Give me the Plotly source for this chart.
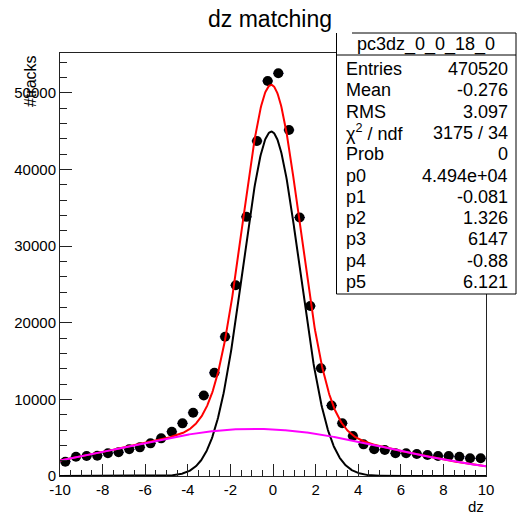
import numpy as np
import plotly.graph_objects as go

# ---- data ----
bin_centers = [-9.75 + 0.5 * i for i in range(40)]
counts = [1870, 2520, 2610, 2650, 2960, 3090, 3480, 3740, 4260, 4910,
          5780, 6870, 8250, 10500, 13470, 18170, 24900, 33820, 43720, 51550,
          52550, 45150, 33730, 22180, 14050, 9200, 6880, 5220, 4130, 3480,
          3390, 2960, 2960, 2870, 2740, 2610, 2610, 2520, 2310, 2310]
half_width = [0.25] * 40

# fit parameters shown in the stats box
p0, p1, p2 = 4.494e4, -0.081, 1.326
p3, p4, p5 = 6147, -0.88, 6.121

x_tickvals = [-10, -8, -6, -4, -2, 0, 2, 4, 6, 8, 10]
x_ticktext = ["-10", "-8", "-6", "-4", "-2", "0", "2", "4", "6", "8", "10"]
y_tickvals = [0, 10000, 20000, 30000, 40000, 50000]
y_ticktext = ["0", "10000", "20000", "30000", "40000", "50000"]

stats_labels = ["Entries", "Mean", "RMS", "χ<sup>2</sup> / ndf", "Prob",
                "p0", "p1", "p2", "p3", "p4", "p5"]
stats_values = ["470520", "-0.276", "3.097", "3175 / 34", "0",
                "4.494e+04", "-0.081", "1.326", "6147", "-0.88", "6.121"]
hist_name = "pc3dz_0_0_18_0"

# ---- layout geometry (pixels) ----
W, H = 531, 516
L, R, T, B = 60, 45, 53, 40
X0, X1 = L, W - R
Y0, Y1 = T, H - B


def px(x):
    return (x - X0) / (X1 - X0)


def py(y):
    return (Y1 - y) / (Y1 - Y0)


xf = np.linspace(-10, 10, 801)
g1 = p0 * np.exp(-0.5 * ((xf - p1) / p2) ** 2)
g2 = p3 * np.exp(-0.5 * ((xf - p4) / p5) ** 2)
tot = g1 + g2

FONT = "Liberation Sans, Arial, sans-serif"

fig = go.Figure()
fig.add_trace(go.Scatter(
    x=bin_centers, y=counts, mode="markers",
    marker=dict(symbol="circle", size=10, color="black"),
    error_x=dict(type="data", array=half_width, color="#000080",
                 thickness=1, width=0),
    showlegend=False, hoverinfo="skip"))
fig.add_trace(go.Scatter(x=xf, y=tot, mode="lines",
                         line=dict(color="#ff0000", width=2),
                         showlegend=False, hoverinfo="skip"))
fig.add_trace(go.Scatter(x=xf, y=g1, mode="lines",
                         line=dict(color="#000000", width=2),
                         showlegend=False, hoverinfo="skip"))
fig.add_trace(go.Scatter(x=xf, y=g2, mode="lines",
                         line=dict(color="#ff00ff", width=2),
                         showlegend=False, hoverinfo="skip"))

axis_common = dict(showgrid=False, zeroline=False, showline=True,
                   linecolor="#222222", linewidth=1, mirror=True,
                   ticks="inside", tickcolor="#222222",
                   tickfont=dict(family=FONT, size=15, color="black"))

fig.update_xaxes(range=[-10, 10], tickmode="array", tickvals=x_tickvals,
                 ticktext=x_ticktext, ticklen=12,
                 minor=dict(ticks="inside", dtick=0.5, tick0=-10, ticklen=6,
                            tickcolor="#222222"),
                 **axis_common)
fig.update_yaxes(range=[0, 55200], tickmode="array", tickvals=y_tickvals,
                 ticktext=y_ticktext, ticklen=12,
                 minor=dict(ticks="inside", dtick=2000, tick0=0, ticklen=7,
                            tickcolor="#222222"),
                 **axis_common)

ann = []
ann.append(dict(text="dz matching", x=px(270), y=py(19), xref="paper",
                yref="paper", showarrow=False, xanchor="center",
                yanchor="middle",
                font=dict(family=FONT, size=23, color="black")))
ann.append(dict(text="dz", x=1, y=py(506), xref="paper", yref="paper",
                showarrow=False, xanchor="right", yanchor="middle",
                font=dict(family=FONT, size=15, color="black")))
ann.append(dict(text="#tracks", x=px(30), y=1, xref="paper", yref="paper",
                showarrow=False, textangle=-90, xanchor="center",
                yanchor="top",
                font=dict(family=FONT, size=16, color="black")))

# stats box
BL, BR, BT, BB = 336.5, 516, 33, 294
HEAD = 55
shapes = [
    dict(type="rect", xref="paper", yref="paper", x0=px(BL), x1=px(BR),
         y0=py(BB), y1=py(BT), fillcolor="white",
         line=dict(width=0), layer="above"),
    dict(type="line", xref="paper", yref="paper", x0=px(BL), x1=px(BL),
         y0=py(BB), y1=py(BT), line=dict(color="black", width=1),
         layer="above"),
    dict(type="line", xref="paper", yref="paper", x0=px(BR), x1=px(BR),
         y0=py(BB), y1=py(BT), line=dict(color="black", width=1),
         layer="above"),
    dict(type="line", xref="paper", yref="paper", x0=px(352), x1=px(BR),
         y0=py(BT), y1=py(BT), line=dict(color="black", width=1),
         layer="above"),
    dict(type="line", xref="paper", yref="paper", x0=px(BL), x1=px(BR),
         y0=py(BB), y1=py(BB), line=dict(color="black", width=1),
         layer="above"),
    dict(type="line", xref="paper", yref="paper", x0=px(BL), x1=px(BR),
         y0=py(HEAD), y1=py(HEAD), line=dict(color="black", width=1),
         layer="above"),
]
ann.append(dict(text=hist_name, x=px((BL + BR) / 2), y=py(44),
                xref="paper", yref="paper", showarrow=False,
                xanchor="center", yanchor="middle",
                font=dict(family=FONT, size=18, color="black")))
first_row, row_h = 69, 21.3
for i, (lab, val) in enumerate(zip(stats_labels, stats_values)):
    yc = first_row + row_h * i
    ann.append(dict(text=lab, x=px(344), y=py(yc), xref="paper",
                    yref="paper", showarrow=False, xanchor="left",
                    yanchor="middle",
                    font=dict(family=FONT, size=18, color="black")))
    ann.append(dict(text=val, x=px(510), y=py(yc), xref="paper",
                    yref="paper", showarrow=False, xanchor="right",
                    yanchor="middle",
                    font=dict(family=FONT, size=18, color="black")))

fig.update_layout(width=W, height=H,
                  margin=dict(l=L, r=R, t=T, b=B, pad=0),
                  paper_bgcolor="white", plot_bgcolor="white",
                  annotations=ann, shapes=shapes, showlegend=False)

fig.write_html("out.html")
